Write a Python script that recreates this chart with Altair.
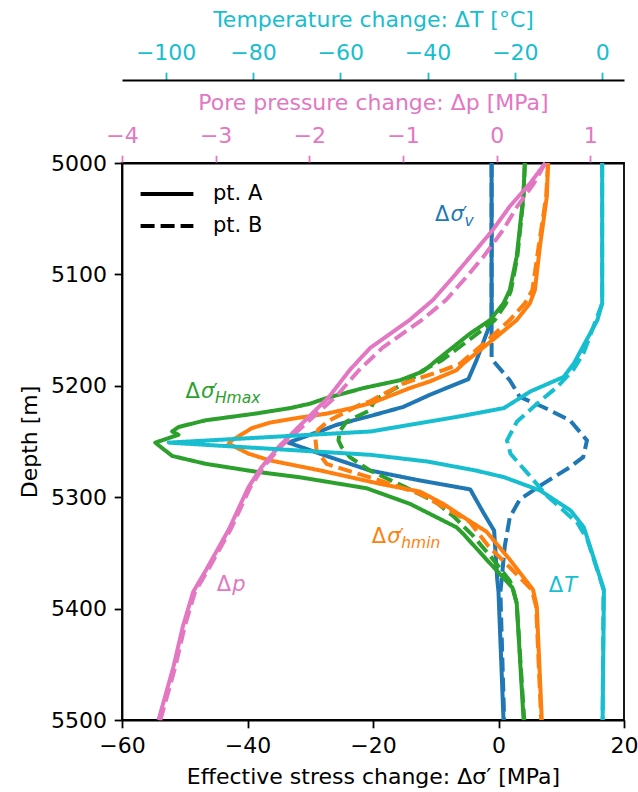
import altair as alt
import pandas as pd

# ---------------- data ----------------
# effective vertical stress change, MPa
sv_A_depth = [5000, 5141, 5177, 5194, 5208, 5219, 5228, 5235, 5239, 5251, 5263, 5276, 5285, 5293, 5314, 5330, 5374, 5385, 5500]
sv_A_value = [-1.1, -1.1, -3.5, -4.8, -10.9, -15.2, -21.0, -25.8, -27.6, -33.5, -27.4, -20.5, -12.5, -4.5, -2.4, -0.7, -0.2, 0.0, 0.8]
sv_B_depth = [5000, 5176, 5195, 5210, 5219, 5231, 5249, 5264, 5273, 5288, 5302, 5318, 5344, 5374, 5385, 5500]
sv_B_value = [-1.1, -1.1, 1.8, 3.4, 7.1, 11.4, 14.1, 13.5, 11.4, 7.1, 3.4, 1.8, 1.0, 0.5, 0.3, 0.9]

# effective max horizontal stress change, MPa
sH_A_depth = [5000, 5030, 5084, 5114, 5126, 5141, 5153, 5177, 5187, 5195, 5202, 5211, 5216, 5220, 5225, 5231, 5237, 5241, 5244, 5251,
              5263, 5270, 5277, 5282, 5292, 5306, 5327, 5333, 5356, 5381, 5395, 5500]
sH_A_value = [4.2, 3.95, 2.9, 1.8, 0.8, -1.35, -4.5, -9.85, -12.0, -15.7, -21.5, -27.4, -30.0, -33.2, -38.8, -46.7, -51.0, -52.0, -51.0, -54.7,
              -52.0, -46.7, -38.8, -31.8, -21.0, -14.1, -6.7, -5.6, -1.9, 2.2, 2.9, 4.0]
sH_B_depth = [5000, 5030, 5084, 5114, 5126, 5141, 5155, 5177, 5186, 5195, 5210, 5216, 5222, 5232, 5241, 5249, 5255, 5264, 5276, 5290,
              5305, 5318, 5335, 5355, 5375, 5382, 5395, 5500]
sH_B_value = [4.2, 4.0, 3.0, 2.0, 1.2, -0.6, -3.8, -9.0, -12.0, -14.1, -18.9, -20.0, -20.5, -24.2, -25.3, -25.5, -25.0, -23.7, -20.5, -15.2,
              -9.85, -7.0, -4.0, -1.0, 1.8, 2.3, 2.9, 4.1]

# effective min horizontal stress change, MPa
sh_A_depth = [5000, 5030, 5075, 5114, 5126, 5141, 5156, 5180, 5186, 5196, 5202, 5215, 5220, 5225, 5229, 5233, 5238, 5249, 5252,
              5261, 5267, 5276, 5288, 5295, 5306, 5320, 5331, 5356, 5383, 5398, 5500]
sh_A_value = [7.9, 7.7, 6.6, 5.8, 5.0, 2.9, -0.3, -5.6, -6.7, -10.9, -14.1, -20.0, -23.4, -27.4, -32.2, -36.4, -39.3, -42.5, -43.0,
              -39.8, -36.4, -28.4, -18.9, -12.5, -8.8, -5.0, -1.9, 1.8, 5.5, 6.1, 6.9]
sh_B_depth = [5000, 5030, 5075, 5114, 5126, 5141, 5158, 5180, 5186, 5198, 5214, 5217, 5231, 5239, 5246, 5258, 5270, 5273, 5285,
              5297, 5322, 5344, 5359, 5383, 5398, 5500]
sh_B_value = [7.9, 7.6, 6.4, 5.4, 4.2, 1.8, -1.5, -6.1, -8.8, -15.2, -20.5, -22.1, -26.9, -28.7, -29.2, -29.0, -27.4, -25.8, -18.9,
              -12.5, -4.6, -1.6, 1.1, 5.3, 6.0, 6.8]

# pore pressure change, MPa
p_depth = [5000, 5018, 5039, 5060, 5084, 5102, 5123, 5141, 5166, 5186, 5210, 5234, 5255, 5273, 5291, 5329, 5365, 5385, 5416, 5452, 5500]
p_A_value = [0.52, 0.36, 0.14, -0.04, -0.28, -0.46, -0.68, -0.93, -1.35, -1.57, -1.79, -2.08, -2.33, -2.51, -2.65, -2.86, -3.10, -3.24, -3.35, -3.45, -3.61]
p_B_value = [0.52, 0.40, 0.22, 0.07, -0.14, -0.32, -0.54, -0.80, -1.22, -1.47, -1.72, -2.04, -2.31, -2.49, -2.63, -2.84, -3.08, -3.22, -3.33, -3.43, -3.59]

# temperature change, degC
T_A_depth = [5000, 5126, 5141, 5180, 5192, 5205, 5220, 5227, 5235, 5241, 5251, 5262, 5268, 5276, 5282, 5294, 5312, 5327, 5383, 5500]
T_A_value = [0.0, 0.0, -1.1, -6.5, -8.8, -16.4, -22.5, -32.0, -44.0, -53.0, -99.3, -53.0, -40.0, -29.0, -22.5, -14.2, -7.2, -4.2, 0.4, 0.1]
T_B_depth = [5000, 5126, 5150, 5170, 5185, 5201, 5216, 5232, 5249, 5261, 5278, 5299, 5323, 5338, 5374, 5383, 5500]
T_B_value = [0.0, 0.0, -2.3, -4.2, -6.5, -10.3, -14.9, -19.5, -21.8, -21.0, -17.2, -12.6, -5.7, -3.4, -0.4, 0.3, 0.1]

# curve labels (anchor in stress units / depth)
lab_series = ["sv", "sH", "sh", "p", "T"]
lab_x = [-10.1, -49.9, -20.2, -44.9, 8.0]
lab_depth = [5052, 5211, 5341, 5384, 5385]
lab_sym = ["σ", "σ", "σ", "p", "T"]
lab_prime = ["′", "′", "′", "", ""]
lab_sub = ["v", "Hmax", "hmin", "", ""]

series_names = ["sv", "sH", "sh", "p", "T"]
series_colors = ["#1f77b4", "#2ca02c", "#ff7f0e", "#e377c2", "#17becf"]
pt_names = ["pt. A", "pt. B"]

# ---------------- tables ----------------
def make(series, pt, depth, value):
    return pd.DataFrame({"series": series, "pt": pt, "depth": depth,
                         "value": value, "idx": list(range(len(depth)))})

stress_df = pd.concat([
    make("sv", "pt. A", sv_A_depth, sv_A_value), make("sv", "pt. B", sv_B_depth, sv_B_value),
    make("sH", "pt. A", sH_A_depth, sH_A_value), make("sH", "pt. B", sH_B_depth, sH_B_value),
    make("sh", "pt. A", sh_A_depth, sh_A_value), make("sh", "pt. B", sh_B_depth, sh_B_value),
])
pore_df = pd.concat([make("p", "pt. A", p_depth, p_A_value), make("p", "pt. B", p_depth, p_B_value)])
temp_df = pd.concat([make("T", "pt. A", T_A_depth, T_A_value), make("T", "pt. B", T_B_depth, T_B_value)])
lab_df = pd.DataFrame({"series": lab_series, "x": lab_x, "depth": lab_depth,
                       "sym": lab_sym, "prime": lab_prime, "sub": lab_sub})
sub_df = lab_df[lab_df["sub"] != ""]

FONT = "DejaVu Sans"
PINK, CYAN = "#e377c2", "#17becf"

color = alt.Color("series:N", scale=alt.Scale(domain=series_names, range=series_colors), legend=None)
dash = alt.StrokeDash(
    "pt:N",
    scale=alt.Scale(domain=pt_names, range=[[1, 0], [14, 6]]),
    legend=alt.Legend(title=None, orient="none", legendX=31, legendY=17, symbolType="M-2.2,0H2.2",
                      symbolSize=576, symbolStrokeWidth=4, symbolStrokeColor="black",
                      symbolFillColor="transparent",
                      labelFontSize=21, labelFont=FONT, labelColor="black", labelOffset=32,
                      rowPadding=8, padding=0),
)
yenc = alt.Y("depth:Q", scale=alt.Scale(domain=[5000, 5500], reverse=True, nice=False, zero=False),
             axis=alt.Axis(values=[5000, 5100, 5200, 5300, 5400, 5500], format="d",
                           title="Depth [m]", titlePadding=9))

line_kw = dict(strokeWidth=4, strokeJoin="round", strokeCap="butt")

stress = alt.Chart(stress_df).mark_line(**line_kw).encode(
    x=alt.X("value:Q", scale=alt.Scale(domain=[-60, 20], nice=False, zero=False),
            axis=alt.Axis(orient="bottom", values=[-60, -40, -20, 0, 20],
                          title="Effective stress change: Δσ′ [MPa]", titlePadding=10)),
    y=yenc, color=color, strokeDash=dash, order=alt.Order("idx:Q"),
)

pore = alt.Chart(pore_df).mark_line(**line_kw).encode(
    x=alt.X("value:Q", scale=alt.Scale(domain=[-4, 1.36], nice=False, zero=False),
            axis=alt.Axis(orient="top", values=[-4, -3, -2, -1, 0, 1],
                          title="Pore pressure change: Δp [MPa]", titlePadding=10,
                          labelColor=PINK, tickColor=PINK, titleColor=PINK, domainColor="black")),
    y=yenc, color=color, strokeDash=dash, order=alt.Order("idx:Q"),
)

temp = alt.Chart(temp_df).mark_line(**line_kw).encode(
    x=alt.X("value:Q", scale=alt.Scale(domain=[-110, 5], nice=False, zero=False),
            axis=alt.Axis(orient="top", offset=83, values=[-100, -80, -60, -40, -20, 0],
                          title="Temperature change: ΔT [°C]", titlePadding=10,
                          labelColor=CYAN, tickColor=CYAN, titleColor=CYAN, domainColor="black")),
    y=yenc, color=color, strokeDash=dash, order=alt.Order("idx:Q"),
)

xlab = alt.X("x:Q", scale=alt.Scale(domain=[-60, 20], nice=False, zero=False), axis=None)

t_delta = alt.Chart(lab_df).mark_text(text="Δ", align="left", baseline="alphabetic",
                                      fontSize=21, font=FONT).encode(x=xlab, y=yenc, color=color)
t_sym = alt.Chart(lab_df).mark_text(align="left", baseline="alphabetic", fontSize=21, font=FONT,
                                    fontStyle="italic", dx=15.5).encode(x=xlab, y=yenc, color=color, text="sym:N")
t_prime = alt.Chart(sub_df).mark_text(align="left", baseline="alphabetic", fontSize=19, font=FONT,
                                      dx=28, dy=-1).encode(x=xlab, y=yenc, color=color, text="prime:N")
t_sub = alt.Chart(sub_df).mark_text(align="left", baseline="alphabetic", fontSize=15.5, font=FONT,
                                    fontStyle="italic", dx=29.5, dy=5).encode(x=xlab, y=yenc, color=color, text="sub:N")

chart = alt.layer(stress, pore, temp, t_delta, t_sym, t_prime, t_sub).resolve_scale(
    x="independent"
).properties(
    width=502, height=557,
    autosize=alt.AutoSizeParams(type="none"),
    padding={"left": 122, "top": 163, "right": 14, "bottom": 72},
).configure_view(
    stroke="black", strokeWidth=1.8
).configure_axis(
    grid=False, labelFont=FONT, titleFont=FONT, labelFontSize=22, titleFontSize=22,
    titleFontWeight="normal", tickSize=7.8, tickWidth=1.8, domainWidth=1.8, domainColor="black",
    labelPadding=7.8, labelColor="black", tickColor="black", titleColor="black", labelFlush=False,
)

chart.save("out.html", embed_options={"renderer": "svg", "actions": False})
